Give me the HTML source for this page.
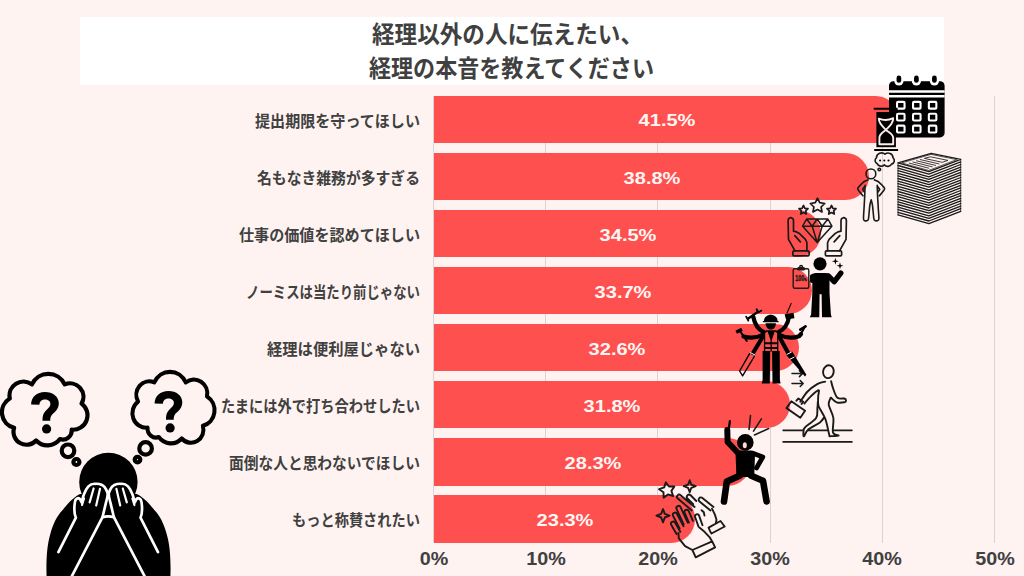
<!DOCTYPE html>
<html lang="ja"><head><meta charset="utf-8"><title>経理以外の人に伝えたい、経理の本音を教えてください</title>
<style>
html,body{margin:0;padding:0}
body{width:1024px;height:576px;overflow:hidden;background:#fef3f1;position:relative;font-family:"Liberation Sans",sans-serif}
.abs{position:absolute}
.title{left:80px;top:17px;width:864px;height:68px;background:#fff;border-radius:2px}
.grid{width:1px;top:96px;height:447px;background:#dcd2d0}
.bar{left:433.5px;height:47.3px;background:#ff5050;border-radius:0 23.65px 23.65px 0}
.val{color:#fff7f3;font-weight:700;font-size:17.2px;line-height:20px;height:20px;width:120px;text-align:center;transform:scaleX(1.165);white-space:nowrap}
.ax{color:#404040;font-weight:700;font-size:17.6px;line-height:20px;height:20px;width:80px;text-align:center;transform:scaleX(1.12);top:549px;white-space:nowrap}
.sr{color:transparent;white-space:nowrap;overflow:hidden;font-size:17px;line-height:20px;height:20px;text-align:right;font-weight:700}
h1.sr{font-size:25px;line-height:34px;height:68px;margin:0;text-align:center;white-space:normal}
svg{position:absolute;left:0;top:0;overflow:visible}
</style></head><body>
<div class="abs title"><h1 class="sr">経理以外の人に伝えたい、<br>経理の本音を教えてください</h1></div>
<div class="abs grid" style="left:433.0px"></div>
<div class="abs grid" style="left:545.2px"></div>
<div class="abs grid" style="left:657.4px"></div>
<div class="abs grid" style="left:769.6px"></div>
<div class="abs grid" style="left:881.8px"></div>
<div class="abs grid" style="left:994.0px"></div>
<div class="abs bar" style="top:95.7px;width:465.6px"></div>
<div class="abs sr" style="left:245px;top:110px;width:174px">提出期限を守ってほしい</div>
<div class="abs val" style="left:606.8px;top:110.3px">41.5%</div>
<div class="abs bar" style="top:152.8px;width:435.3px"></div>
<div class="abs sr" style="left:247px;top:167px;width:172px">名もなき雑務が多すぎる</div>
<div class="abs val" style="left:591.7px;top:167.5px">38.8%</div>
<div class="abs bar" style="top:209.9px;width:387.1px"></div>
<div class="abs sr" style="left:229px;top:224px;width:190px">仕事の価値を認めてほしい</div>
<div class="abs val" style="left:567.5px;top:224.6px">34.5%</div>
<div class="abs bar" style="top:267.0px;width:378.1px"></div>
<div class="abs sr" style="left:236px;top:281px;width:184px">ノーミスは当たり前じゃない</div>
<div class="abs val" style="left:563.1px;top:281.6px">33.7%</div>
<div class="abs bar" style="top:324.1px;width:365.8px"></div>
<div class="abs sr" style="left:257px;top:338px;width:163px">経理は便利屋じゃない</div>
<div class="abs val" style="left:556.9px;top:338.8px">32.6%</div>
<div class="abs bar" style="top:381.2px;width:356.8px"></div>
<div class="abs sr" style="left:211px;top:395px;width:209px">たまには外で打ち合わせしたい</div>
<div class="abs val" style="left:552.4px;top:395.8px">31.8%</div>
<div class="abs bar" style="top:438.3px;width:317.5px"></div>
<div class="abs sr" style="left:219px;top:452px;width:200px">面倒な人と思わないでほしい</div>
<div class="abs val" style="left:532.8px;top:452.9px">28.3%</div>
<div class="abs bar" style="top:495.4px;width:261.4px"></div>
<div class="abs sr" style="left:282px;top:509px;width:137px">もっと称賛されたい</div>
<div class="abs val" style="left:504.7px;top:510.0px">23.3%</div>
<div class="abs ax" style="left:393.5px">0%</div>
<div class="abs ax" style="left:505.7px">10%</div>
<div class="abs ax" style="left:617.9px">20%</div>
<div class="abs ax" style="left:730.1px">30%</div>
<div class="abs ax" style="left:842.3px">40%</div>
<div class="abs ax" style="left:954.5px">50%</div>
<svg width="1024" height="576" viewBox="0 0 1024 576">
<g font-family="'Liberation Sans','Noto Sans CJK JP',sans-serif" font-weight="700" font-size="16" fill="#404040" text-anchor="end">
<text x="420" y="126.5" textLength="165" lengthAdjust="spacingAndGlyphs">提出期限を守ってほしい</text>
<text x="420" y="183.6" textLength="163" lengthAdjust="spacingAndGlyphs">名もなき雑務が多すぎる</text>
<text x="420" y="240.7" textLength="181" lengthAdjust="spacingAndGlyphs">仕事の価値を認めてほしい</text>
<text x="420" y="297.8" textLength="174" lengthAdjust="spacingAndGlyphs">ノーミスは当たり前じゃない</text>
<text x="420" y="354.9" textLength="153" lengthAdjust="spacingAndGlyphs">経理は便利屋じゃない</text>
<text x="420" y="412" textLength="199" lengthAdjust="spacingAndGlyphs">たまには外で打ち合わせしたい</text>
<text x="420" y="469.1" textLength="191" lengthAdjust="spacingAndGlyphs">面倒な人と思わないでほしい</text>
<text x="420" y="526.2" textLength="128" lengthAdjust="spacingAndGlyphs">もっと称賛されたい</text>
</g>
<g font-family="'Liberation Sans','Noto Sans CJK JP',sans-serif" font-weight="700" font-size="24" fill="#404040">
<text x="372" y="43" textLength="271" lengthAdjust="spacingAndGlyphs">経理以外の人に伝えたい、</text>
<text x="369" y="76.6" textLength="285" lengthAdjust="spacingAndGlyphs">経理の本音を教えてください</text>
</g>
</svg>
<svg width="1024" height="576" viewBox="0 0 1024 576">
<!-- left thought bubble -->
<g fill="none" stroke="#000" stroke-width="4.2" stroke-linejoin="round">
<path id="cloud" d="M31.9 384.4A18 18 0 0 1 64.7 384.4A13.5 13.5 0 0 1 81.6 403.6A14.5 14.5 0 0 1 71.7 429.7A9 9 0 0 1 60 439.1A15.7 15.7 0 0 1 36.1 440.5A13 13 0 0 1 14.1 427.8A16 16 0 0 1 9.8 398.5A14 14 0 0 1 31.9 384.4Z"/>
<circle cx="68" cy="450.8" r="6.3"/><circle cx="76.4" cy="462" r="3"/>
<use href="#cloud" transform="translate(216.4 -2) scale(-0.96 1)"/>
<circle cx="145.6" cy="448.4" r="6.3"/><circle cx="137.5" cy="459.6" r="2.8"/>
</g>
<g id="qm"><path d="M31.1 404.6C31 397 37 391.9 44.8 391.9C53 391.9 58.8 396.5 58.8 403.2C58.8 408 56 411 53.5 413.3C51 415.5 50.2 417 50.2 420.8L42.5 420.8C42.5 415.5 43.5 413 46 410.5C48.5 408 50.4 406.5 50.4 404C50.4 401.2 48 399.6 45.2 399.6C42 399.6 39.6 401.5 39.4 404.8Z"/><circle cx="46.6" cy="428.9" r="4.6"/></g>
<use href="#qm" transform="translate(123.5 -1)"/>
<!-- person -->
<circle cx="108.4" cy="482" r="29.2"/>
<path d="M46.6 577C46 560 47 545 50.2 534.4C53 524 57 516 62 510.8C66 506 72 498 80 494L136.8 494C145 498 151 506 155 510.8C160 516 164 524 166.8 534.4C170 545 171 560 170.4 577Z"/>
<g fill="#000" stroke="#fff" stroke-width="2.7" stroke-linecap="round" stroke-linejoin="round">
<path id="hand" d="M58.4 552.1L75.9 517.7C74.3 514 74 508 74.9 502.1C75.2 498.6 78.6 497 80.2 499.5L81.6 502.5C82.5 499 83 496.5 84.2 493.7C85.5 490.5 86.8 488.2 88.4 486.4C90.5 484.3 93 483.6 95.2 483.8C97.5 483.6 100 484 102 484.9C104 486 105.4 487.8 106.1 489.5C107 491.2 107.6 492.6 107.7 494.2C107.6 497 106.8 499.5 106.1 502.1L102.5 517.2L71.4 577"/>
<use href="#hand" transform="translate(216.4 0) scale(-1 1)"/>
<path fill="none" d="M102.5 517.2Q108.2 515.6 113.9 517.2"/>
<path id="fing" fill="none" stroke-width="2.2" d="M84 498.5L82 505M93.6 488.5L89.6 502.4M100 488.8L96.2 505.5"/>
<use href="#fing" transform="translate(216.4 0) scale(-1 1)"/>
</g>
</svg>
<svg width="1024" height="576" viewBox="0 0 1024 576">
<!-- calendar -->
<rect x="889" y="81.2" width="55.6" height="56.2" rx="4.5"/>
<path fill="none" stroke="#fff" stroke-width="2.5" d="M889 91.4H944.6M889 96.3H944.6"/>
<g fill="none" stroke="#fff" stroke-width="2.1" stroke-linejoin="round"><rect x="897.05" y="101.85" width="7.5" height="6.8" rx="1"/><rect x="913.05" y="101.85" width="7.5" height="6.8" rx="1"/><rect x="928.85" y="101.85" width="7.5" height="6.8" rx="1"/><rect x="897.05" y="113.75" width="7.5" height="6.8" rx="1"/><rect x="913.05" y="113.75" width="7.5" height="6.8" rx="1"/><rect x="928.85" y="113.75" width="7.5" height="6.8" rx="1"/><rect x="897.05" y="125.65" width="7.5" height="6.8" rx="1"/><rect x="913.05" y="125.65" width="7.5" height="6.8" rx="1"/><rect x="928.85" y="125.65" width="7.5" height="6.8" rx="1"/></g>
<rect x="894.3" y="73" width="9.2" height="12.6" rx="4.6" fill="#fff"/><rect x="911.8" y="73" width="9.2" height="12.6" rx="4.6" fill="#fff"/><rect x="929.8" y="73" width="9.2" height="12.6" rx="4.6" fill="#fff"/><rect x="896.55" y="75.6" width="4.7" height="7.2" rx="2.35"/><rect x="914.05" y="75.6" width="4.7" height="7.2" rx="2.35"/><rect x="932.05" y="75.6" width="4.7" height="7.2" rx="2.35"/>
<!-- hourglass -->
<rect x="876.4" y="112" width="19.5" height="35.2"/>
<g fill="none" stroke="#ffeeec" stroke-width="1.9" stroke-linejoin="round"><path d="M878.8 118.6Q886 121.6 893.2 118.2C893.2 124 888 127.5 885.9 129.8C883.8 127.5 878.8 124 878.8 118.6Z"/><path d="M885.9 129.8C888 132 893.2 133.5 893.2 138V144.2H879.4V138C879.4 133.5 883.8 132 885.9 129.8Z"/></g>
<path stroke="#000" stroke-width="2.1" d="M873.7 108.8H897.6M874.2 150H898.1"/>
</svg>
<svg width="1024" height="576" viewBox="0 0 1024 576">
<g fill="none" stroke="#1a1a1a" stroke-width="1.6" stroke-linejoin="round" stroke-linecap="round"><circle cx="870.9" cy="173.9" r="4.9"/><path d="M868.0 179.8C867.4 180.1 865.5 180.6 864.2 181.5C862.9 182.4 861.3 184.2 860.2 185.3C859.2 186.5 857.9 187.5 857.7 188.5C857.6 189.4 858.3 190.0 859.2 191.3C860.1 192.5 862.3 195.1 862.9 195.8M874.3 179.8C874.9 180.1 876.8 180.6 878.1 181.5C879.4 182.4 881.0 184.2 882.1 185.3C883.2 186.5 884.4 187.5 884.6 188.5C884.8 189.4 884.0 190.0 883.1 191.3C882.3 192.5 880.0 195.1 879.4 195.8M865.0 186.1L862.5 189.4L864.5 192.3M877.3 186.1L879.8 189.4L877.8 192.3M865.1 185.3C865.0 187.5 864.8 194.4 864.6 198.3C864.4 202.2 864.2 205.4 864.0 208.7C863.8 212.0 863.5 216.2 863.5 218.1C863.5 220.0 863.6 219.7 864.0 220.2C864.4 220.7 865.1 220.9 865.8 220.9C866.4 220.9 867.3 220.7 867.7 220.2C868.2 219.7 868.2 220.5 868.6 218.1C868.9 215.7 869.4 208.7 869.8 205.6C870.3 202.6 870.9 200.9 871.2 199.9M877.2 185.3C877.3 187.5 877.5 194.4 877.7 198.3C877.9 202.2 878.2 205.4 878.3 208.7C878.5 212.0 878.9 216.2 878.9 218.1C878.9 220.0 878.7 219.7 878.3 220.2C878.0 220.7 877.2 220.9 876.6 220.9C876.0 220.9 875.1 220.7 874.6 220.2C874.1 219.7 874.1 220.5 873.8 218.1C873.4 215.7 873.0 208.7 872.5 205.6C872.1 202.6 871.4 200.9 871.2 199.9"/><path d="M876.4 157.9A5.2 5.2 0 0 1 885 154.2A5 5 0 0 1 893.1 157.9A3.6 3.6 0 0 1 891.6 164.1A4.5 4.5 0 0 1 884.3 164.9A4.5 4.5 0 0 1 877.1 163.6A3.3 3.3 0 0 1 876.4 157.9Z"/><circle cx="879.3" cy="169.5" r="1.3"/></g><circle cx="880.1" cy="160.5" r="1.05"/><circle cx="884.3" cy="160.5" r="1.05"/><circle cx="888.5" cy="160.5" r="1.05"/>
<g fill="none" stroke="#1a1a1a" stroke-width="1.3" stroke-linejoin="round" stroke-linecap="round"><path d="M898.0 162.9L928.9 171.6L960.7 159.3M898.0 165.5L928.9 174.2L960.7 161.9M898.0 168.1L928.9 176.8L960.7 164.5M898.0 170.7L928.9 179.4L960.7 167.1M898.0 173.3L928.9 182.0L960.7 169.7M898.0 175.9L928.9 184.6L960.7 172.3M898.0 178.5L928.9 187.2L960.7 174.9M898.0 181.1L928.9 189.8L960.7 177.5M898.0 183.7L928.9 192.4L960.7 180.1M898.0 186.3L928.9 195.0L960.7 182.7M898.0 188.9L928.9 197.6L960.7 185.3M898.0 191.5L928.9 200.2L960.7 187.9M898.0 194.1L928.9 202.8L960.7 190.5M898.0 196.7L928.9 205.4L960.7 193.1M898.0 199.3L928.9 208.0L960.7 195.7M898.0 201.9L928.9 210.6L960.7 198.3M898.0 204.5L928.9 213.2L960.7 200.9M898.0 207.1L928.9 215.8L960.7 203.5M898.0 209.7L928.9 218.4L960.7 206.1M898.0 212.3L928.9 221.0L960.7 208.7M898.0 214.9L928.9 223.6L960.7 211.3M898.0 162.9L931.2 153.3L960.7 159.3"/><path stroke-width="0.8" d="M898.0 162.9V214.9M960.7 159.3V211.3"/><path stroke-width="0.85" d="M924.8 158.3L930.4 156.8L947.9 160.4L942.6 162.2ZM920.3 159.6L939.0 163.9M916.6 160.8L935.6 165.4M912.9 162.0L932.2 166.8M909.3 163.1L928.8 168.2"/><path stroke-width="0.7" d="M902.1 162.8L931.0 154.4L956.7 159.6L929.0 170.3Z"/></g>
</svg>
<svg width="1024" height="576" viewBox="0 0 1024 576">
<g fill="none" stroke="#1a1a1a" stroke-width="1.7" stroke-linejoin="round" stroke-linecap="round"><path d="M817.5 198.2L819.7 202.7L824.7 203.5L821.1 207.0L822.0 211.9L817.5 209.6L813.0 211.9L813.9 207.0L810.3 203.5L815.3 202.7ZM803.5 205.5L804.9 208.3L808.0 208.7L805.7 210.9L806.3 214.0L803.5 212.5L800.7 214.0L801.3 210.9L799.0 208.7L802.1 208.3ZM831.5 205.5L832.9 208.3L836.0 208.7L833.7 210.9L834.3 214.0L831.5 212.5L828.7 214.0L829.3 210.9L827.0 208.7L830.1 208.3Z"/><path stroke-width="1.5" d="M806.6 219.0L827.9 219.0L831.9 226.2L817.2 242.5L802.6 226.2ZM802.6 226.2L831.9 226.2M806.6 219.0L812.2 226.2L817.2 219.0L822.2 226.2L827.9 219.0M812.2 226.2L817.2 242.5L822.2 226.2"/><path d="M795.0 250.9L788.5 239.4L788.1 220.6L788.5 218.8L790.8 217.6L793.0 218.8L793.5 220.6L793.5 231.2L796.6 231.9L799.8 233.8L805.4 239.4L806.9 242.5L806.9 250.9M794.8 235.6L800.4 241.9M839.5 250.9L846.0 239.4L846.4 220.6L846.0 218.8L843.8 217.6L841.5 218.8L841.0 220.6L841.0 231.2L837.9 231.9L834.8 233.8L829.1 239.4L827.6 242.5L827.6 250.9M839.8 235.6L834.1 241.9"/><rect x="792.9" y="250.9" width="16.2" height="5.0" rx="1.2"/><rect x="825.4" y="250.9" width="16.2" height="5.0" rx="1.2"/></g>
</svg>
<svg width="1024" height="576" viewBox="0 0 1024 576">
<circle cx="820.0" cy="263.8" r="6.6"/><path d="M812.3 294.2L812.3 276.4Q812.3 273.1 815.9 273.1L825.9 273.1Q829.5 273.1 829.5 276.4L829.5 294.2ZM812.3 292.9L819.6 292.9L819.3 317.3L809.8 317.3L811.1 314.6ZM821.6 292.9L829.5 292.9L830.9 314.6L831.7 317.3L822.0 317.3Z"/><path fill="none" stroke="#000" stroke-width="5.3" stroke-linecap="round" stroke-linejoin="round" d="M828.6 276.0L834.1 281.8L840.8 273.1"/><path fill="none" stroke="#000" stroke-width="3.4" stroke-linecap="round" stroke-linejoin="round" d="M813.2 275.4L811.7 276.0L811.7 281.2"/>
<g fill="none" stroke="#1a1a1a" stroke-width="1.4" stroke-linejoin="round"><rect x="793.2" y="268.7" width="15.6" height="19.5" rx="1.5"/><rect x="797.8" y="267.8" width="6.6" height="2.1" rx="0.8" fill="#1a1a1a"/><circle cx="801.1" cy="266.9" r="1.4"/></g><text x="0" y="0" transform="translate(795.3 281.2) scale(0.64 1)" font-family="Liberation Sans, sans-serif" font-weight="700" font-size="8.4" fill="#1a1a1a" stroke="#1a1a1a" stroke-width="0.35">100<tspan font-size="4.2">%</tspan></text><path d="M835.4 257.7L836.2 260.4L838.9 261.2L836.2 262.0L835.4 264.7L834.6 262.0L831.9 261.2L834.6 260.4ZM840.0 262.3L840.8 265.0L843.5 265.8L840.8 266.6L840.0 269.3L839.2 266.6L836.5 265.8L839.2 265.0Z"/>
</svg>
<svg width="1024" height="576" viewBox="0 0 1024 576">
<g fill="none" stroke="#1a1a1a" stroke-width="1.9" stroke-linejoin="round" stroke-linecap="round"><path stroke-width="1.7" d="M783.2 430.3H851.9M783.2 441.9H851.9"/><path fill="#fef3f1" stroke="none" d="M817.8 402.0C816.0 402.6 817.7 405.5 817.4 408.2C817.1 410.9 818.1 415.0 816.1 418.1C814.1 421.3 807.3 425.0 805.2 427.2C803.1 429.5 803.7 430.0 803.5 431.5C803.3 433.1 803.2 436.7 804.0 436.3C804.7 436.0 805.6 431.8 808.3 429.5C810.9 427.2 817.2 424.5 819.9 422.4C822.6 420.4 823.5 417.7 824.4 417.0C825.3 416.4 824.5 416.0 825.2 418.6C825.9 421.2 828.0 429.6 828.7 432.5C829.4 435.4 827.9 435.6 829.5 436.2C831.2 436.7 838.0 436.3 838.6 435.7C839.2 435.1 833.9 435.5 833.0 432.5C832.1 429.5 834.1 422.3 833.3 417.7C832.6 413.0 831.3 407.3 828.7 404.7C826.1 402.1 819.7 401.4 817.8 402.0Z"/><ellipse cx="828.4" cy="371.7" rx="5.3" ry="6.5" transform="rotate(12 828.4 371.7)"/><path d="M825.2 381.6C823.9 382.0 820.1 382.5 817.2 384.1C814.3 385.8 810.4 388.5 807.6 391.5C804.8 394.4 801.5 400.0 800.3 401.7M804.4 403.6C805.4 402.4 808.2 398.8 810.5 396.6C812.8 394.3 817.2 390.2 818.5 390.2C819.8 390.2 818.1 394.1 818.2 396.7C818.2 399.4 817.5 402.3 818.6 406.0C819.8 409.6 823.5 414.2 825.2 418.6C826.9 423.0 828.0 429.6 828.7 432.5C829.4 435.4 829.4 435.6 829.5 436.2M817.8 402.0C817.8 403.0 817.7 405.5 817.4 408.2C817.1 410.9 818.1 415.0 816.1 418.1C814.1 421.3 807.3 425.0 805.2 427.2C803.1 429.5 803.7 430.0 803.5 431.5C803.3 433.1 803.2 436.7 804.0 436.3C804.7 436.0 805.6 431.8 808.3 429.5C810.9 427.2 817.2 424.5 819.9 422.4C822.6 420.4 823.6 417.9 824.4 417.0M831.1 381.2C831.4 382.5 832.1 386.0 833.2 388.7C834.2 391.5 835.6 396.2 837.5 397.8C839.4 399.5 842.9 398.1 844.4 398.5C845.8 398.9 846.0 399.8 846.0 400.4C846.0 401.0 845.9 402.0 844.4 402.3C842.8 402.6 838.9 403.1 836.7 402.3C834.5 401.6 832.0 398.6 831.1 397.8M830.6 397.8C830.3 399.0 828.3 401.4 828.7 404.7C829.2 408.0 832.6 413.0 833.3 417.7C834.1 422.3 832.1 429.5 833.0 432.5C833.9 435.5 839.2 435.1 838.6 435.7C838.0 436.3 831.0 436.1 829.5 436.2"/><path d="M791.3 401.2L805.1 410.8L800.3 417.7L786.5 408.1ZM796.4 400.7L798.4 398.5L803.2 401.8L801.6 403.9"/><path stroke-width="1.5" d="M792.0 373.6H802.4M799.4 370.6l3 3l-3 3M792.0 383.5H803.2M800.2 380.5l3 3l-3 3"/></g>
</svg>
<svg width="1024" height="576" viewBox="0 0 1024 576">
<!-- helmet + head -->
<path d="M763.9 321.2C763.9 312.5 777.6 312.5 777.6 321.2Z"/><path stroke="#000" stroke-width="1.3" stroke-linecap="round" d="M763.4 321.7H778.1"/>
<path d="M765.6 323.2H775.9C775.9 331.6 765.6 331.6 765.6 323.2Z"/>
<!-- arms -->
<g fill="none" stroke="#000" stroke-width="4.2" stroke-linecap="round" stroke-linejoin="round">
<path d="M763.5 332Q755.5 328 753.3 317"/>
<path d="M763.5 334.5Q754 339.5 743.5 336.5"/>
<path d="M763.5 335.5L753 353"/>
<path d="M778.6 332Q787 328.5 789 317"/>
<path d="M778.6 334.5Q789 339.8 799 336.3L801 334"/>
<path d="M778.6 335.5L788.5 353.5"/>
</g>
<!-- torso -->
<path d="M763.9 333.5Q763.9 330.2 767 330.2H775.3Q778.4 330.2 778.4 333.5V351.5H763.9Z"/>
<!-- vest (red panels) -->
<path fill="#ff5050" d="M765.2 333L767.6 331.4L770.5 340V342.2H765.2ZM777.1 333L774.7 331.4L771.8 340V342.2H777.1ZM765.2 344.2H770.5V347H765.2ZM771.8 344.2H777.1V347H771.8ZM765.2 349H770.5V351.5H765.2ZM771.8 349H777.1V351.5H771.8Z"/>
<!-- legs -->
<path d="M762.6 351H770.2L769.8 383.6H761.8L762.6 380ZM772.1 351H779.7L779.9 380L780.6 383.6H772.5Z"/>
<!-- tools -->
<g fill="none" stroke="#000" stroke-linecap="round" stroke-linejoin="round">
<path stroke-width="2.4" d="M748.3 318.4L758 311.8"/><path stroke-width="1.8" d="M756.6 309.2L758.4 312.4L761.4 310.6M746.2 316.6L748.3 320.6"/>
<path stroke-width="2" d="M740.4 331.6L746.8 341"/><path stroke-width="3.4" stroke-linecap="butt" d="M736.2 332.2L742 329.2"/>
<path stroke-width="1.4" d="M755.2 355L742.6 375.8L739.6 371L749.6 353.6"/>
<path stroke-width="1.1" d="M787 313L791.2 303.4"/>
<path stroke-width="2.2" d="M804.8 326.8L800.4 334.6"/><path stroke-width="2.6" d="M800.2 329.6L805.6 326.4"/>
</g>
<path d="M784.6 314.2L793.6 312.8L794.4 318.2L786 319.6Z"/>
<path d="M785.8 354.4L792 351.2L806.4 374.8L805 376.6Z"/>
<path stroke="#fff" stroke-width="1" fill="none" d="M750.4 352.6L755.6 355.4M786.6 354.6L791.6 352M789.6 359.4L794.4 357"/>
</svg>
<svg width="1024" height="576" viewBox="0 0 1024 576">
<circle cx="745.3" cy="442.4" r="8.3"/>
<ellipse cx="744.8" cy="445.2" rx="2" ry="3" fill="#ffd9d6"/>
<path d="M735.6 455Q735.6 450.6 740 450.6H751Q755.2 450.6 755 455L754.2 477H736.4Z"/>
<g fill="none" stroke="#000" stroke-linecap="round" stroke-linejoin="round">
<path stroke-width="6" d="M738.5 453.5L727.6 442L727.3 430"/>
<path stroke-width="2.2" d="M728.8 429L729.9 421"/>
<path stroke-width="4.8" d="M753.5 453.5L762.8 457L756.5 468"/>
<path stroke-width="6.6" d="M740 475.5L726.8 481.5L724 501.5M750.8 475.5L763 480.8L766.6 501.5"/>
<path stroke="#1a1a1a" stroke-width="1.6" d="M750.5 415.5L749.1 429.4M761.4 418.9L753.5 431.1M768.7 428.5L754.5 434.9"/>
</g>
</svg>
<svg width="1024" height="576" viewBox="0 0 1024 576">
<g fill="none" stroke="#1a1a1a" stroke-width="1.9" stroke-linejoin="round" stroke-linecap="round"><path d="M676.5 534.0L671.2 524.8A2.20 2.20 0 0 1 675.0 522.6L680.3 531.8M679.6 528.4L673.0 515.7A2.20 2.20 0 0 1 676.9 513.7L683.5 526.3M683.7 524.4L676.6 509.1A2.20 2.20 0 0 1 680.6 507.2L687.7 522.6M688.9 522.6L684.6 512.5A2.20 2.20 0 0 1 688.6 510.8L692.9 520.9M691.8 510.4L677.8 498.6A2.20 2.20 0 0 1 680.6 495.2L694.6 507.0M693.2 504.2L687.5 498.5A2.20 2.20 0 0 1 690.6 495.3L696.3 501.0M710.5 510.5L699.5 501.5A2.30 2.30 0 0 1 702.4 497.9L713.5 506.9M701.6 510.2L703.8 512.2L704.5 515.6M698.5 526.6L695.1 517.0A2.10 2.10 0 0 1 699.1 515.6L702.5 525.2M678.4 532.9L678.8 538.4L685.1 546.1L692.4 550.0M699.4 527.6L703.6 530.9L709.5 537.1L712.2 541.4M692.4 550.0L712.2 541.4L715.1 547.4L695.7 557.3ZM712.0 508.7L714.8 514.4L716.5 519.7L715.9 523.0M708.6 527.6L720.5 521.0L724.7 526.5L711.5 533.5M708.6 527.6L710.2 531.5L711.5 533.5"/><path d="M665.8 482.2L669.0 486.5L674.4 486.5L671.4 490.9L673.1 496.0L667.9 494.4L663.6 497.7L663.5 492.3L659.1 489.2L664.2 487.4ZM689.7 480.2L691.3 484.6L695.7 486.2L691.3 487.8L689.7 492.2L688.1 487.8L683.7 486.2L688.1 484.6ZM663.0 509.1L664.8 513.9L669.6 515.7L664.8 517.5L663.0 522.3L661.2 517.5L656.4 515.7L661.2 513.9Z"/></g>
</svg>
</body></html>
